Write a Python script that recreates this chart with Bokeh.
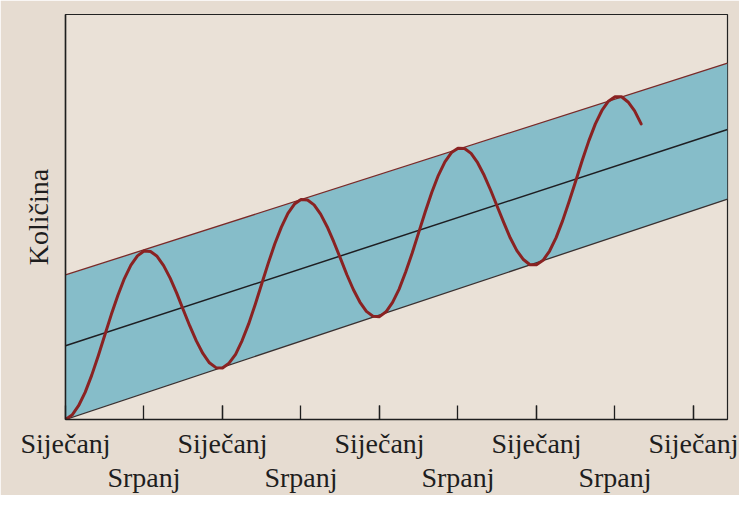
from bokeh.plotting import figure
from bokeh.models import Range1d, LinearAxis, FixedTicker
from bokeh.embed import file_html
from bokeh.resources import INLINE

# ---- data ----
band_x = [0.0, 50.6]            # months, left edge to right edge
lower_band = [0.0, 54.4]
trend_line = [18.2, 71.6]
upper_band = [35.7, 88.0]

curve_months = [
    0.0, 0.5, 1.0, 1.5, 2.0, 2.5, 3.0, 3.5, 4.0, 4.5, 5.0, 5.5,
    6.0, 6.5, 7.0, 7.5, 8.0, 8.5, 9.0, 9.5, 10.0, 10.5, 11.0, 11.5,
    12.0, 12.5, 13.0, 13.5, 14.0, 14.5, 15.0, 15.5, 16.0, 16.5, 17.0, 17.5,
    18.0, 18.5, 19.0, 19.5, 20.0, 20.5, 21.0, 21.5, 22.0, 22.5, 23.0, 23.5,
    24.0, 24.5, 25.0, 25.5, 26.0, 26.5, 27.0, 27.5, 28.0, 28.5, 29.0, 29.5,
    30.0, 30.5, 31.0, 31.5, 32.0, 32.5, 33.0, 33.5, 34.0, 34.5, 35.0, 35.5,
    36.0, 36.5, 37.0, 37.5, 38.0, 38.5, 39.0, 39.5, 40.0, 40.5, 41.0, 41.5,
    42.0, 42.5, 43.0, 43.5, 44.0,
]
curve_values = [
    0.0, 1.1, 3.4, 6.7, 10.9, 15.7, 20.8, 25.9, 30.6, 34.8, 38.1, 40.4,
    41.6, 41.5, 40.3, 38.0, 34.9, 31.2, 27.1, 23.1, 19.4, 16.3, 14.0, 12.8,
    12.7, 13.9, 16.1, 19.5, 23.6, 28.4, 33.5, 38.6, 43.4, 47.5, 50.9, 53.2,
    54.3, 54.2, 53.0, 50.7, 47.6, 43.9, 39.9, 35.8, 32.1, 29.0, 26.7, 25.5,
    25.4, 26.6, 28.9, 32.2, 36.4, 41.1, 46.2, 51.3, 56.1, 60.3, 63.6, 65.9,
    67.0, 66.9, 65.7, 63.4, 60.3, 56.6, 52.6, 48.6, 44.8, 41.7, 39.5, 38.2,
    38.2, 39.3, 41.6, 44.9, 49.1, 53.9, 58.9, 64.0, 68.8, 73.0, 76.3, 78.6,
    79.7, 79.7, 78.4, 76.2, 73.0,
]

jan_ticks = [0, 12, 24, 36, 48]
jul_ticks = [6, 18, 30, 42]
all_ticks = [6, 12, 18, 24, 30, 36, 42, 48]
jan_label = "Siječanj"
jul_label = "Srpanj"
y_title = "Količina"

# ---- figure ----
paper = "#E6DCD1"
p = figure(width=739, height=495, output_backend="svg", toolbar_location=None,
           x_range=Range1d(0, 50.6), y_range=Range1d(0, 100),
           x_axis_location=None, y_axis_location=None,
           min_border_left=65, min_border_right=12, min_border_top=14,
           min_border_bottom=71)
p.background_fill_color = "#EAE1D7"
p.border_fill_color = paper
p.outline_line_color = "#222222"
p.outline_line_width = 1.2
p.xgrid.visible = False
p.ygrid.visible = False

font = "Liberation Serif"
fsize = "28px"
ink = "#1E1E1E"

# bottom axis, first row: January labels + inward ticks every 6 months
ax1 = LinearAxis(ticker=FixedTicker(ticks=jan_ticks, minor_ticks=all_ticks),
                 major_label_overrides={t: jan_label for t in jan_ticks})
ax1.axis_line_color = ink
ax1.axis_line_width = 1.5
ax1.major_tick_in = 14
ax1.major_tick_out = 0
ax1.minor_tick_in = 14
ax1.minor_tick_out = 0
ax1.major_tick_line_color = ink
ax1.minor_tick_line_color = ink
ax1.major_tick_line_width = 1.3
ax1.minor_tick_line_width = 1.3
ax1.major_label_standoff = 8
ax1.major_label_text_font = font
ax1.major_label_text_font_size = fsize
ax1.major_label_text_color = ink
p.add_layout(ax1, "below")

# bottom axis, second row: July labels
ax2 = LinearAxis(ticker=FixedTicker(ticks=jul_ticks),
                 major_label_overrides={t: jul_label for t in jul_ticks})
ax2.axis_line_color = None
ax2.major_tick_line_color = None
ax2.minor_tick_line_color = None
ax2.major_tick_in = 0
ax2.major_tick_out = 0
ax2.major_label_standoff = 0
ax2.major_label_text_font = font
ax2.major_label_text_font_size = fsize
ax2.major_label_text_color = ink
p.add_layout(ax2, "below")

# left axis with title only
ay = LinearAxis(ticker=FixedTicker(ticks=[]), axis_label=y_title)
ay.axis_line_color = ink
ay.axis_line_width = 1.5
ay.major_tick_line_color = None
ay.minor_tick_line_color = None
ay.axis_label_text_font = font
ay.axis_label_text_font_size = fsize
ay.axis_label_text_font_style = "normal"
ay.axis_label_text_color = ink
ay.axis_label_standoff = 12
p.add_layout(ay, "left")

# band
p.varea(x=band_x, y1=lower_band, y2=upper_band, fill_color="#86BDC9", fill_alpha=1.0)
p.line(band_x, lower_band, line_color="#3A3030", line_width=1.3)
p.line(band_x, upper_band, line_color="#7A2A28", line_width=1.3)
p.line(band_x, trend_line, line_color="#1E1E22", line_width=1.5)

# seasonal curve
p.line(curve_months, curve_values, line_color="#8A2222", line_width=3.0,
       line_cap="round", line_join="round")

open("out.html", "w").write(file_html(p, INLINE))
